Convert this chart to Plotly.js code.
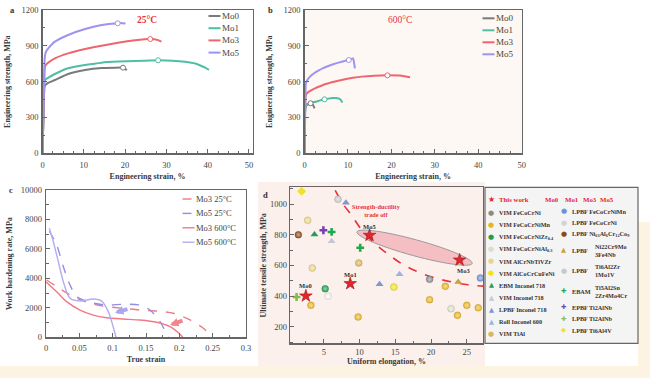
<!DOCTYPE html>
<html><head><meta charset="utf-8">
<script src="https://cdn.plot.ly/plotly-3.0.1.min.js"></script>
<style>html,body{margin:0;padding:0;background:#fff}</style>
</head><body><div id="chart" style="width:650px;height:378px"></div>
<script>
// ---------------- DATA ----------------
const seriesNames = ['Mo0', 'Mo1', 'Mo3', 'Mo5'];

// Panel a: 25°C engineering stress-strain
const aMo0Strain = [0, 0.35, 0.5, 0.8, 1.5, 3.0, 6.2, 10.3, 14.3, 17.5, 19.5, 20.0, 20.4];
const aMo0Stress = [0, 470, 560, 575, 592, 614, 664, 697, 714, 717, 717, 708, 695];
const aMo1Strain = [0, 0.35, 0.5, 0.8, 1.5, 3.0, 6.2, 10.3, 14.3, 18.5, 22.4, 28.0, 31.5, 34.5, 37.0, 38.5, 39.5, 40.3];
const aMo1Stress = [0, 480, 600, 620, 635, 664, 712, 739, 759, 768, 773, 779, 776, 767, 752, 731, 715, 698];
const aMo3Strain = [0, 0.35, 0.5, 0.7, 1.5, 3.0, 6.2, 10.3, 14.3, 18.3, 22.4, 26.1, 27.8, 28.8];
const aMo3Stress = [0, 500, 700, 735, 762, 795, 837, 873, 901, 926, 946, 957, 950, 935];
const aMo5Strain = [0, 0.35, 0.5, 0.7, 1.0, 1.4, 3.0, 6.2, 10.3, 14.3, 18.2, 19.3, 20.1];
const aMo5Stress = [0, 520, 780, 835, 860, 879, 935, 991, 1041, 1074, 1089, 1090, 1087];
const aUtsStrain = [19.5, 28.0, 26.1, 18.2];
const aUtsStress = [717, 779, 957, 1089];

// Panel b: 600°C engineering stress-strain
const bMo0Strain = [0, 0.2, 0.6, 1.0, 1.4, 1.8, 2.1, 2.3];
const bMo0Stress = [0, 380, 405, 415, 419, 412, 395, 377];
const bMo1Strain = [0, 0.2, 0.6, 1.5, 2.6, 3.6, 4.6, 5.5, 6.3, 7.2, 7.8, 8.4, 8.7];
const bMo1Stress = [0, 380, 412, 424, 432, 443, 452, 458, 463, 463, 460, 445, 424];
const bMo3Strain = [0, 0.25, 0.5, 1.2, 2.4, 4.0, 5.5, 7.5, 9.3, 11.2, 13.2, 16.0, 19.1, 22.4, 24.3];
const bMo3Stress = [0, 480, 500, 520, 544, 568, 586, 605, 620, 632, 642, 650, 653, 650, 636];
const bMo5Strain = [0, 0.2, 0.3, 0.6, 1.27, 2.2, 3.2, 4.3, 5.5, 6.6, 7.8, 9.0, 10.2, 11.2, 11.4, 11.6];
const bMo5Stress = [0, 400, 580, 610, 642, 670, 692, 713, 731, 746, 759, 771, 781, 795, 760, 712];
const bUtsStrain = [1.4, 4.6, 19.1, 10.2];
const bUtsStress = [419, 452, 653, 781];

// Panel c: work hardening rate vs true strain
const cNames = ['Mo3 25°C', 'Mo5 25°C', 'Mo3 600°C', 'Mo5 600°C'];
const cMo3RTStrain = [0.001, 0.016, 0.041, 0.066, 0.091, 0.116, 0.141, 0.166, 0.191, 0.216, 0.236, 0.2485];
const cMo3RTRate   = [3890, 3440, 2760, 2310, 2080, 1970, 1850, 1785, 1630, 1175, 610, 40];
const cMo5RTStrain = [0.005, 0.016, 0.026, 0.036, 0.046, 0.066, 0.091, 0.116, 0.141, 0.156, 0.171, 0.1835];
const cMo5RTRate   = [7200, 6270, 4790, 3550, 2760, 2380, 2190, 2240, 2190, 1850, 1060, 0];
const cMo3HTStrain = [0, 0.016, 0.031, 0.051, 0.071, 0.091, 0.116, 0.141, 0.166, 0.186, 0.201, 0.205];
const cMo3HTRate   = [3775, 3095, 2420, 1850, 1510, 1330, 1240, 1170, 1020, 720, 205, 0];
const cMo5HTStrain = [0.005, 0.011, 0.0185, 0.026, 0.036, 0.051, 0.071, 0.0835, 0.0935, 0.100, 0.105];
const cMo5HTRate   = [7400, 6490, 5130, 3775, 2650, 2460, 2600, 2460, 1740, 835, 0];

// Panel d: UTS vs uniform elongation
const thisWorkNames = ['Mo0', 'Mo1', 'Mo5', 'Mo3'];
const thisWorkElong = [2.5, 8.7, 11.4, 24.0];
const thisWorkUts   = [401, 481, 796, 635];
const matMethod = ['VIM', 'VIM', 'VIM', 'VIM', 'VIM', 'VIM', 'EBM', 'VIM', 'LPBF', 'Roll', 'VIM',
                   'LPBF', 'LPBF', 'LPBF', 'LPBF', 'LPBF', 'EBAM', 'EPBF', 'LPBF', 'LPBF'];
const matAlloy = ['FeCoCrNi', 'FeCoCrNiMn', 'FeCoCrNiZr<sub>0.4</sub>', 'FeCoCrNiAl<sub>0.3</sub>', 'AlCrNbTiVZr',
                  'AlCoCrCuFeNi', 'Inconel 718', 'Inconel 718', 'Inconel 718', 'Inconel 600', 'TiAl',
                  'FeCoCrNiMn', 'FeCoCrNi', 'Ni<sub>63</sub>Al<sub>6</sub>Cr<sub>12</sub>Co<sub>9</sub>',
                  'Ni22Cr9Mo<br>3Fe4Nb', 'Ti6Al2Zr<br>1Mo1V', 'Ti5Al2Sn<br>2Zr4Mo4Cr', 'Ti2AlNb', 'Ti2AlNb', 'Ti6Al4V'];
const ptMaterial = [0, 1, 1, 1, 1, 1, 1, 1, 2, 3, 4, 4, 5, 6, 7, 8, 8, 9, 10, 11, 12, 13, 14, 15, 16, 16, 17, 18, 19];
const ptElong    = [19.8, 3.2, 9.8, 19.8, 22.0, 23.7, 25.0, 26.6, 5.2, 22.8, 2.75, 3.4, 14.8, 3.7, 6.1, 8.1, 12.8, 15.6, 9.9, 26.9, 5.6, 1.45, 23.8, 7.0, 6.1, 10.1, 4.95, 1.2, 1.9];
const ptUts      = [509, 340, 264, 377, 464, 275, 340, 324, 448, 318, 894, 583, 459, 802, 757, 1008, 477, 542, 616, 518, 399, 800, 492, 1031, 818, 715, 829, 394, 1083];
const tradeElong = [6.6, 7.7, 8.9, 10.0, 11.2, 12.4, 13.6, 15.9, 18.2, 20.6, 22.9, 25.2, 27.6];
const tradeUts   = [1089, 1000, 926, 850, 785, 732, 687, 611, 557, 518, 492, 474, 464];

// ---------------- STYLE ----------------
const W = 650, H = 378;
const PX = x => x / W;
const PY = y => 1 - y / H;
const FONT = 'Liberation Serif, Times New Roman, serif';
const TXT = '#3a3a3a';
const abColors = ['#7a7a7a', '#4fbfa3', '#f0646f', '#9d93f0'];
const cColors = ['#f07a86', '#8f8fe6', '#f07a86', '#b3acf2'];
const cDash = ['dash', 'dash', 'solid', 'solid'];
const matColor = ['#8a8a8a', '#e6b422', '#1f9e50', '#dcdccb', '#e9d58a', '#f2e31a', '#2e9a5a', '#c4c6d4', '#7f96cf', '#9fb3dd', '#d8b65a',
                  '#6f93d6', '#f0f0f0', '#8b4a1e', '#c9a23a', '#c8c8c8', '#22a84b', '#7a3fb5', '#86bb4a', '#f0e030'];
const matSymbol = ['circle', 'circle', 'circle', 'circle', 'circle', 'circle', 'triangle-up', 'triangle-up', 'triangle-up', 'triangle-up', 'circle',
                   'circle', 'circle', 'circle', 'triangle-up', 'circle', 'cross', 'cross', 'cross', 'diamond'];
const symbolChar = {'circle': '●', 'triangle-up': '▲', 'cross': '✚', 'diamond': '◆'};
function tint(hex, f) {
  const n = parseInt(hex.slice(1), 16);
  const r = (n >> 16) & 255, g = (n >> 8) & 255, b = n & 255;
  const m = v => Math.round(v + (255 - v) * f);
  return 'rgb(' + m(r) + ',' + m(g) + ',' + m(b) + ')';
}

const traces = [];
const aX = [aMo0Strain, aMo1Strain, aMo3Strain, aMo5Strain], aY = [aMo0Stress, aMo1Stress, aMo3Stress, aMo5Stress];
const bX = [bMo0Strain, bMo1Strain, bMo3Strain, bMo5Strain], bY = [bMo0Stress, bMo1Stress, bMo3Stress, bMo5Stress];
for (let i = 0; i < 4; i++) {
  traces.push({x: aX[i], y: aY[i], xaxis: 'x', yaxis: 'y', mode: 'lines', name: seriesNames[i],
    line: {color: abColors[i], width: 2, shape: 'spline', smoothing: 0.4}, showlegend: false, hoverinfo: 'skip'});
  traces.push({x: bX[i], y: bY[i], xaxis: 'x2', yaxis: 'y2', mode: 'lines', name: seriesNames[i],
    line: {color: abColors[i], width: 2, shape: 'spline', smoothing: 0.4}, showlegend: false, hoverinfo: 'skip'});
}
for (let i = 0; i < 4; i++) {
  traces.push({x: [aUtsStrain[i]], y: [aUtsStress[i]], xaxis: 'x', yaxis: 'y', mode: 'markers',
    marker: {symbol: 'circle', size: 5, color: '#fff', line: {color: abColors[i], width: 1}}, showlegend: false, hoverinfo: 'skip'});
  traces.push({x: [bUtsStrain[i]], y: [bUtsStress[i]], xaxis: 'x2', yaxis: 'y2', mode: 'markers',
    marker: {symbol: 'circle', size: 5, color: '#fff', line: {color: abColors[i], width: 1}}, showlegend: false, hoverinfo: 'skip'});
}
const cX = [cMo3RTStrain, cMo5RTStrain, cMo3HTStrain, cMo5HTStrain], cY = [cMo3RTRate, cMo5RTRate, cMo3HTRate, cMo5HTRate];
for (let i = 0; i < 4; i++) {
  traces.push({x: cX[i], y: cY[i], xaxis: 'x3', yaxis: 'y3', mode: 'lines', name: cNames[i],
    line: {color: cColors[i], width: 1.4, dash: cDash[i], shape: 'spline', smoothing: 0.8}, showlegend: false, hoverinfo: 'skip'});
}
// panel d
traces.push({x: tradeElong, y: tradeUts, xaxis: 'x4', yaxis: 'y4', mode: 'lines',
  line: {color: '#e8303a', width: 1.6, dash: 'dash', shape: 'spline'}, showlegend: false, hoverinfo: 'skip'});
for (let m = 0; m < matAlloy.length; m++) {
  const xs = [], ys = [];
  ptMaterial.forEach((k, j) => { if (k === m) { xs.push(ptElong[j]); ys.push(ptUts[j]); } });
  const sym = matSymbol[m];
  const mk = {symbol: sym, color: matColor[m], size: 7, line: {width: 0}};
  if (sym === 'circle') { mk.gradient = {type: 'radial', color: tint(matColor[m], 0.55)}; mk.line = {width: 0.4, color: 'rgba(0,0,0,0.25)'}; }
  if (sym === 'cross') mk.size = 6.5;
  traces.push({x: xs, y: ys, xaxis: 'x4', yaxis: 'y4', mode: 'markers', name: matMethod[m] + ' ' + matAlloy[m],
    marker: mk, showlegend: false, hoverinfo: 'skip'});
}
traces.push({x: thisWorkElong, y: thisWorkUts, xaxis: 'x4', yaxis: 'y4', mode: 'markers', name: 'This work',
  marker: {symbol: 'star', size: 9.5, color: '#e3262e', line: {color: '#9a1818', width: 0.6}}, showlegend: false, hoverinfo: 'skip'});

// ---------------- LAYOUT ----------------
function axis(extra) {
  return Object.assign({showgrid: false, zeroline: false, showline: true, mirror: true, linecolor: '#666', linewidth: 1.2,
    ticks: 'inside', ticklen: 4, tickcolor: '#666', tickwidth: 1, fixedrange: true,
    tickfont: {family: FONT, size: 8.5, color: '#444'}}, extra);
}
function ttl(text, standoff) {
  return {text: '<b>' + text + '</b>', font: {family: FONT, size: 8, color: TXT}, standoff: standoff};
}
const dom = {
  a: {x: [PX(42.5), PX(252.5)], y: [PY(153.3), PY(10)]},
  b: {x: [PX(304.5), PX(521.7)], y: [PY(153.3), PY(10)]},
  c: {x: [PX(46), PX(246)], y: [PY(337.3), PY(190)]},
  d: {x: [PX(290), PX(483)], y: [PY(343.3), PY(187.3)]}
};
const dXR = [0.28, 27.27], dYR = [92.5, 1108.8];

const shapes = [];
const annotations = [];
function note(o) {
  annotations.push(Object.assign({xref: 'paper', yref: 'paper', xanchor: 'center', yanchor: 'middle', showarrow: false, borderpad: 0}, o));
}
// backgrounds
shapes.push({type: 'rect', xref: 'paper', yref: 'paper', x0: PX(258), x1: PX(485), y0: PY(366), y1: PY(182), fillcolor: '#fbf0ec', line: {width: 0}, layer: 'below'});
shapes.push({type: 'rect', xref: 'paper', yref: 'paper', x0: 0, x1: 1, y0: 0, y1: PY(366), fillcolor: '#fdf3e2', line: {width: 0}, layer: 'below'});
shapes.push({type: 'rect', xref: 'paper', yref: 'paper', x0: PX(638), x1: 1, y0: PY(366), y1: PY(222), fillcolor: '#fdf3e2', line: {width: 0}, layer: 'below'});
shapes.push({type: 'rect', xref: 'paper', yref: 'paper', x0: dom.b.x[0], x1: dom.b.x[1], y0: dom.b.y[0], y1: dom.b.y[1], fillcolor: '#fdf8f3', line: {width: 0}, layer: 'below'});

// legends a, b, c
function lineLegend(x0, y0, dy, names, colors, dashes, fs) {
  names.forEach((n, i) => {
    const yy = y0 + i * dy;
    shapes.push({type: 'line', xref: 'paper', yref: 'paper', x0: PX(x0), x1: PX(x0 + 12), y0: PY(yy), y1: PY(yy),
      line: {color: colors[i], width: dashes ? 1.4 : 2, dash: dashes ? dashes[i] : 'solid'}});
    note({x: PX(x0 + 12.5), y: PY(yy), xanchor: 'left', text: n, font: {family: FONT, size: fs, color: '#444'}});
  });
}
lineLegend(208.5, 16, 12.2, seriesNames, abColors, null, 9);
lineLegend(482.5, 18.3, 12, seriesNames, abColors, null, 9);
lineLegend(182.5, 199, 14.4, cNames, cColors, cDash, 8.5);

// panel letters / temperature labels
[['a', 12, 10], ['b', 270, 10], ['c', 11, 190], ['d', 265, 195]].forEach(([t, x, y]) =>
  note({x: PX(x), y: PY(y), text: '<b>' + t + '</b>', font: {family: FONT, size: 8.5, color: '#333'}}));
note({x: PX(147), y: PY(20), text: '<b>25°C</b>', font: {family: FONT, size: 9.5, color: '#e8343c'}});
note({x: PX(400), y: PY(20.5), text: '600°C', font: {family: FONT, size: 9.5, color: '#e8343c'}});

// arrows in panel c
annotations.push({xref: 'x3', yref: 'y3', x: 0.1035, y: 1670, ax: 14, ay: -4, showarrow: true, arrowhead: 2, arrowsize: 0.42, arrowwidth: 4, arrowcolor: '#a9a6f2', text: ''});
annotations.push({xref: 'x3', yref: 'y3', x: 0.186, y: 835, ax: 14, ay: -5, showarrow: true, arrowhead: 2, arrowsize: 0.42, arrowwidth: 4, arrowcolor: '#f0868e', text: ''});

// panel d: highlight ellipse around Mo5 and Mo3 stars (pixel space -> data)
const dx2p = x => 290 + (x - dXR[0]) / (dXR[1] - dXR[0]) * 193;
const dy2p = y => 343.3 - (y - dYR[0]) / (dYR[1] - dYR[0]) * 156;
const dp2x = p => dXR[0] + (p - 290) / 193 * (dXR[1] - dXR[0]);
const dp2y = p => dYR[0] + (343.3 - p) / 156 * (dYR[1] - dYR[0]);
(function () {
  const i5 = thisWorkNames.indexOf('Mo5'), i3 = thisWorkNames.indexOf('Mo3');
  const p1 = [dx2p(thisWorkElong[i5]), dy2p(thisWorkUts[i5])], p2 = [dx2p(thisWorkElong[i3]), dy2p(thisWorkUts[i3])];
  const cx = (p1[0] + p2[0]) / 2, cy = (p1[1] + p2[1]) / 2;
  const th = Math.atan2(p2[1] - p1[1], p2[0] - p1[0]);
  const a = Math.hypot(p2[0] - p1[0], p2[1] - p1[1]) / 2 + 13, b = 8;
  let path = '';
  for (let k = 0; k <= 60; k++) {
    const t = k / 60 * 2 * Math.PI;
    const sx = cx + a * Math.cos(t) * Math.cos(th) - b * Math.sin(t) * Math.sin(th);
    const sy = cy + a * Math.cos(t) * Math.sin(th) + b * Math.sin(t) * Math.cos(th);
    path += (k === 0 ? 'M' : 'L') + dp2x(sx).toFixed(3) + ',' + dp2y(sy).toFixed(2);
  }
  shapes.push({type: 'path', xref: 'x4', yref: 'y4', path: path + 'Z', fillcolor: 'rgba(240,150,160,0.55)', line: {color: '#9a9a9a', width: 1}, layer: 'below'});
})();
// star labels
const starShift = {Mo0: [0, 10], Mo1: [0, 9], Mo5: [0, 9], Mo3: [4, -10]};
thisWorkNames.forEach((n, i) => note({xref: 'x4', yref: 'y4', x: thisWorkElong[i], y: thisWorkUts[i],
  xshift: starShift[n][0], yshift: starShift[n][1], text: '<b>' + n + '</b>', font: {family: FONT, size: 6.5, color: '#333'}}));
note({x: PX(376), y: PY(210), text: '<b>Strength-ductility<br>trade off</b>', font: {family: FONT, size: 6.3, color: '#e8303a'}});

// panel d legend box
shapes.push({type: 'rect', xref: 'paper', yref: 'paper', x0: PX(485), x1: PX(638), y0: PY(343.3), y1: PY(187.3), fillcolor: '#f5f4f4', line: {color: '#666', width: 1.2}, layer: 'below'});
const LF = {family: FONT, size: 6.2, color: '#333'};
const HF = {family: FONT, size: 6.8, color: '#e3262e'};
const SF = s => ({family: 'DejaVu Sans', size: s, color: '#333'});
note({x: PX(491), y: PY(199.5), text: '★', font: Object.assign(SF(8), {color: '#e3262e'})});
note({x: PX(498), y: PY(199.5), xanchor: 'left', text: '<b>This work</b>', font: HF});
[['Mo0', 552], ['Mo1', 572], ['Mo3', 589.5], ['Mo5', 607]].forEach(([t, x]) =>
  note({x: PX(x), y: PY(199.5), text: '<b>' + t + '</b>', font: HF}));
function legendEntry(m, sx, tx, yy) {
  note({x: PX(sx), y: PY(yy), text: symbolChar[matSymbol[m]],
    font: Object.assign(SF(matSymbol[m] === 'circle' ? 7 : 6.5), {color: matColor[m] === '#f0f0f0' ? '#d4d4d4' : matColor[m]})});
  if (matAlloy[m].indexOf('<br>') >= 0) {
    note({x: PX(tx), y: PY(yy), xanchor: 'left', text: '<b>' + matMethod[m] + '</b>', font: LF});
    note({x: PX(tx + 23), y: PY(yy), xanchor: 'left', align: 'left', text: '<b>' + matAlloy[m] + '</b>', font: LF});
  } else {
    note({x: PX(tx), y: PY(yy), xanchor: 'left', text: '<b>' + matMethod[m] + ' ' + matAlloy[m] + '</b>', font: LF});
  }
}
let yl = 212.7;
for (let m = 0; m <= 10; m++) { legendEntry(m, 491, 498, yl); yl += 12.13; }
let yr = 211, prevH = null;
for (let m = 11; m < matAlloy.length; m++) {
  const h = matAlloy[m].indexOf('<br>') >= 0 ? 20.5 : 11.5;
  if (prevH !== null) yr += (h + prevH) / 2;
  legendEntry(m, 563.5, 570.5, yr);
  prevH = h;
}

const layout = {
  width: W, height: H, margin: {l: 0, r: 0, t: 0, b: 0}, paper_bgcolor: '#ffffff', plot_bgcolor: 'rgba(0,0,0,0)',
  showlegend: false, font: {family: FONT, color: TXT},
  xaxis: axis({domain: dom.a.x, range: [0, 50.85], anchor: 'y', dtick: 10, ticklabelstandoff: 3, minor: {ticks: 'inside', ticklen: 2.5, dtick: 2.5, tickcolor: '#666'},
    title: ttl('Engineering strain, %', 4)}),
  yaxis: axis({domain: dom.a.y, range: [0, 1200], anchor: 'x', dtick: 300, ticklabelstandoff: 1, minor: {ticks: 'inside', ticklen: 2.5, dtick: 150, tickcolor: '#666'},
    title: ttl('Engineering strength, MPa', 9)}),
  xaxis2: axis({domain: dom.b.x, range: [0, 50], anchor: 'y2', dtick: 10, ticklabelstandoff: 3, minor: {ticks: 'inside', ticklen: 2.5, dtick: 2.5, tickcolor: '#666'},
    title: ttl('Engineering strain, %', 4)}),
  yaxis2: axis({domain: dom.b.y, range: [0, 1200], anchor: 'x2', dtick: 300, ticklabelstandoff: 1, minor: {ticks: 'inside', ticklen: 2.5, dtick: 150, tickcolor: '#666'},
    title: ttl('Engineering strength, MPa', 9)}),
  xaxis3: axis({domain: dom.c.x, range: [0, 0.3], anchor: 'y3', dtick: 0.05, ticklabelstandoff: 2, minor: {ticks: 'inside', ticklen: 2.5, dtick: 0.025, tickcolor: '#666'},
    title: ttl('True strain', 4)}),
  yaxis3: axis({domain: dom.c.y, range: [0, 10000], anchor: 'x3', dtick: 2000, tickformat: 'd', ticklabelstandoff: 1, minor: {ticks: 'inside', ticklen: 2.5, dtick: 1000, tickcolor: '#666'},
    title: ttl('Work hardening rate, MPa', 7)}),
  xaxis4: axis({domain: dom.d.x, range: dXR, anchor: 'y4', dtick: 5, tick0: 0, minor: {ticks: 'inside', ticklen: 2.5, dtick: 2.5, tickcolor: '#666'},
    title: ttl('Uniform elongation, %', 0)}),
  yaxis4: axis({domain: dom.d.y, range: dYR, anchor: 'x4', dtick: 200, tick0: 0, minor: {ticks: 'inside', ticklen: 2.5, dtick: 100, tickcolor: '#666'},
    title: ttl('Ultimate tensile strength, MPa', 2)}),
  shapes: shapes, annotations: annotations
};
Plotly.newPlot('chart', traces, layout, {staticPlot: true, displayModeBar: false});
</script></body></html>
